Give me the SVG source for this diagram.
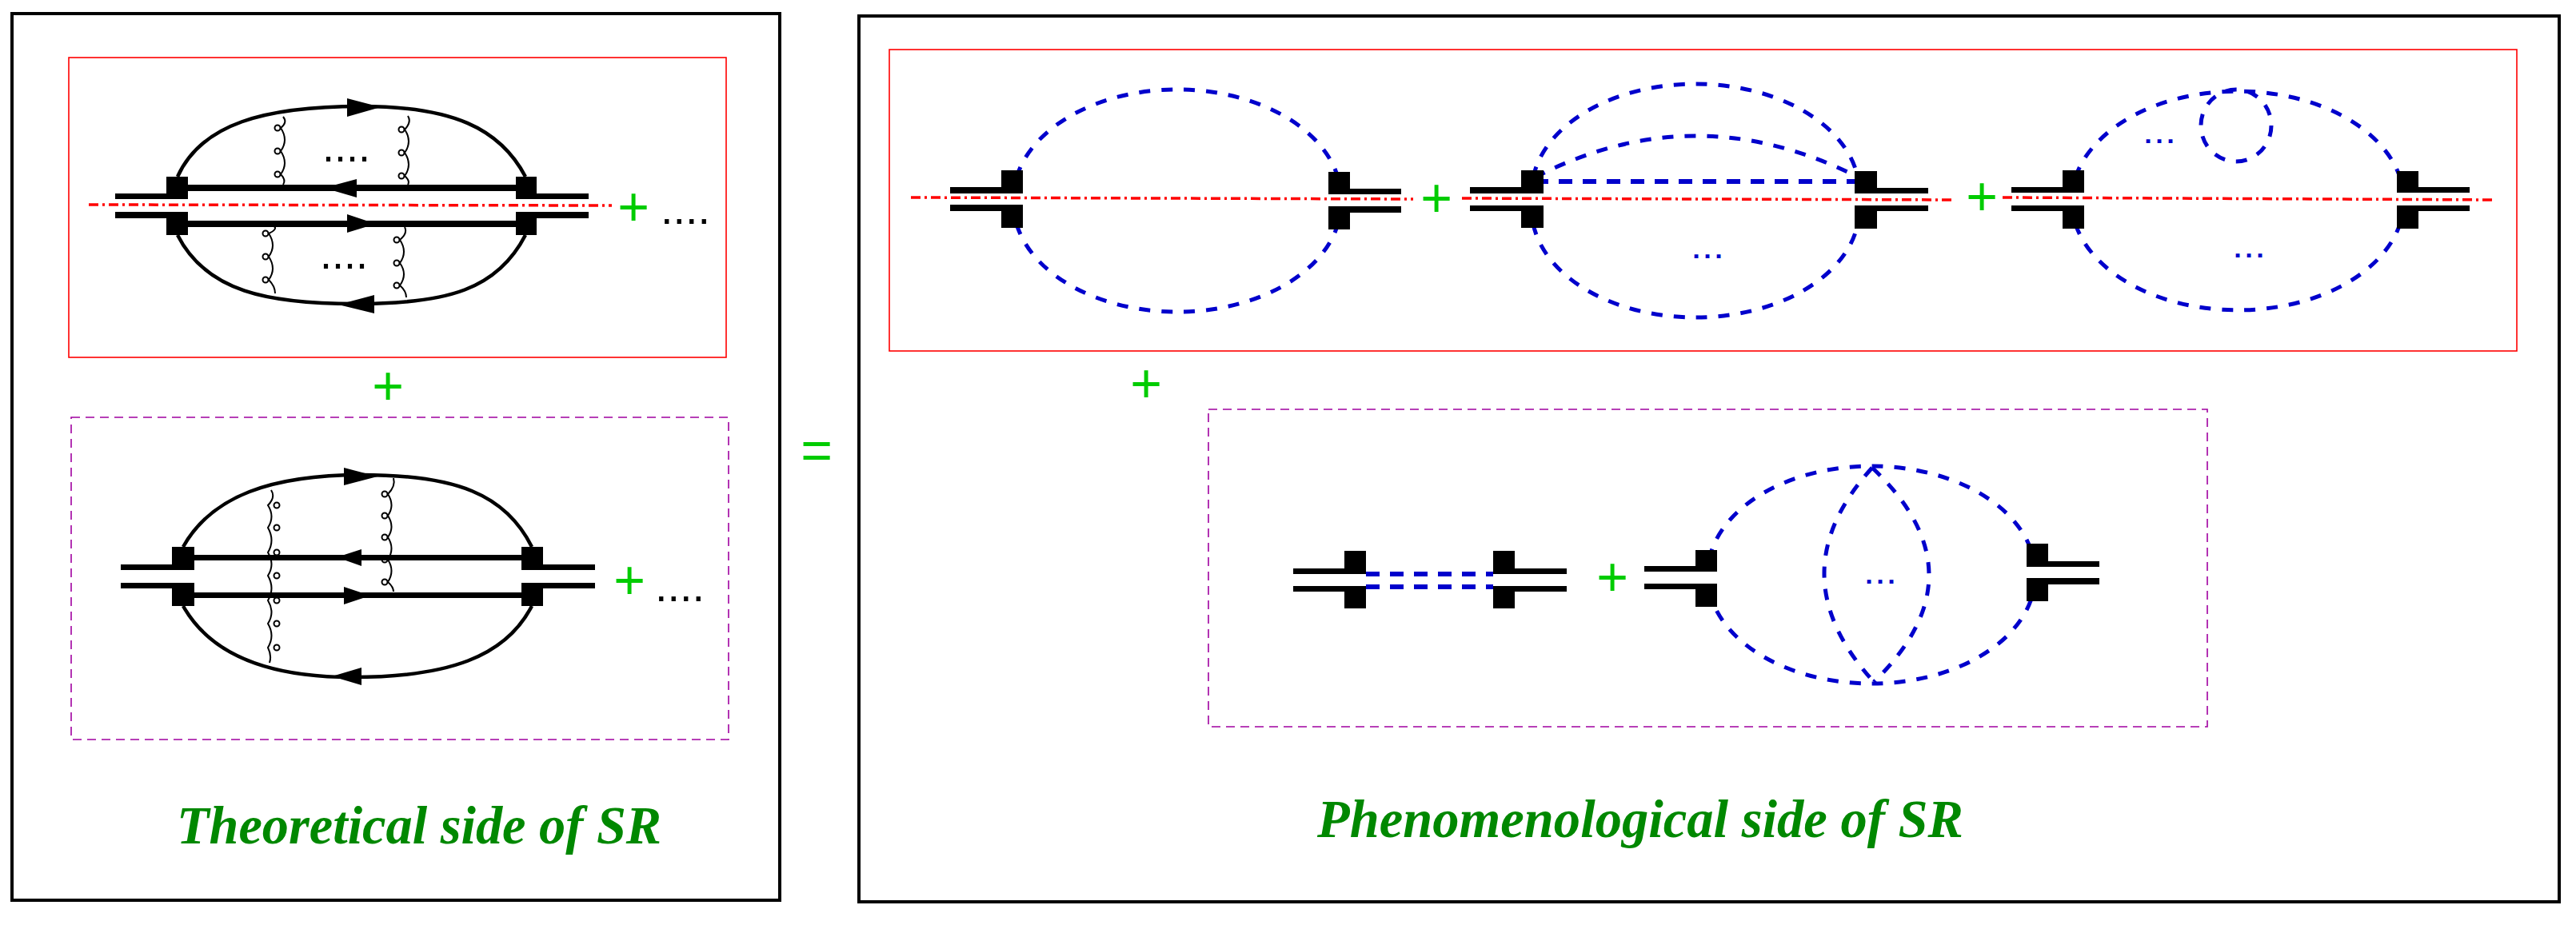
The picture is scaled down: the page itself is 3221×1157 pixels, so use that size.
<svg xmlns="http://www.w3.org/2000/svg" width="3221" height="1157" viewBox="0 0 3221 1157">
<style>
.frame{fill:none;stroke:#000;stroke-width:4}
.redbox{fill:none;stroke:#f00;stroke-width:1.6}
.purbox{fill:none;stroke:#a000a0;stroke-width:1.6;stroke-dasharray:11 7}
.cut{fill:none;stroke:#f00;stroke-width:3.5;stroke-dasharray:12 5 3 5}
.q{fill:none;stroke:#000;stroke-width:4.5}
.blk{fill:#000}
.glu{fill:none;stroke:#000;stroke-width:2}
.bl{fill:none;stroke:#0000cc;stroke-width:5;stroke-dasharray:14 14}
.bl2{fill:none;stroke:#0000cc;stroke-width:6;stroke-dasharray:17 13}
.plus{font-family:"Liberation Sans",Arial,sans-serif;font-size:68px;fill:#00cc00;text-anchor:middle}
.dots{font-family:"Liberation Sans",Arial,sans-serif;font-size:56px;fill:#000}
.bdots{font-family:"Liberation Sans",Arial,sans-serif;font-size:44px;fill:#0000cc}
.title{font-family:"Liberation Serif","Times New Roman",serif;font-weight:bold;font-style:italic;font-size:68px;fill:#008800}
</style>
<defs>
<g id="loop3"><circle cx="0" cy="0" r="3.5" class="glu"/></g>
</defs>

<rect class="frame" x="15" y="17" width="960" height="1109"/>
<rect class="frame" x="1074" y="20" width="2126" height="1108"/>
<rect class="redbox" x="86" y="72" width="822" height="375"/>
<rect class="purbox" x="89" y="522" width="822" height="403"/>
<rect class="redbox" x="1112" y="62" width="2035" height="377"/>
<rect class="purbox" x="1511" y="512" width="1249" height="397"/>

<g id="connectors">
<!-- left diagram 1 -->
<line class="cut" x1="111" y1="256" x2="765" y2="257"/>
<path class="q" d="M222,221 C252,155 330,133 452,133 C565,133 625,160 657,221"/>
<path class="q" d="M222,294 C258,365 335,380 445,380 C560,380 622,362 657,294"/>
<line x1="235" y1="235" x2="645" y2="235" stroke="#000" stroke-width="8"/>
<line x1="235" y1="280" x2="645" y2="280" stroke="#000" stroke-width="8"/>
<polygon class="blk" points="434,123 476,134 434,146"/>
<polygon class="blk" points="468,369 423,381 468,392"/>
<polygon class="blk" points="446,224 405,235 446,247"/>
<polygon class="blk" points="434,268 470,280 434,291"/>
<path class="glu" d="M354,146 Q360,153 351,160 Q361,175 351,189 Q361,204 351,218 Q358,225 354,231"/>
<path class="glu" d="M510,145 Q515,153 506,162 Q516,177 506,191 Q516,206 506,220 Q513,226 510,231"/>
<path class="glu" d="M343,283 Q347,287 336,292 Q346,307 336,321 Q346,336 336,350 Q344,358 344,367"/>
<path class="glu" d="M506,284 Q510,292 500,300 Q510,315 500,329 Q510,343 500,357 Q508,364 508,372"/>
<circle class="glu" cx="347" cy="160" r="3.5"/><circle class="glu" cx="347" cy="189" r="3.5"/><circle class="glu" cx="347" cy="218" r="3.5"/>
<circle class="glu" cx="502" cy="162" r="3.5"/><circle class="glu" cx="502" cy="191" r="3.5"/><circle class="glu" cx="502" cy="220" r="3.5"/>
<circle class="glu" cx="332" cy="292" r="3.5"/><circle class="glu" cx="332" cy="321" r="3.5"/><circle class="glu" cx="332" cy="350" r="3.5"/>
<circle class="glu" cx="496" cy="300" r="3.5"/><circle class="glu" cx="496" cy="329" r="3.5"/><circle class="glu" cx="496" cy="357" r="3.5"/>
<!-- left diagram 2 -->
<path class="q" d="M229,684 C265,620 340,594 452,594 C570,594 632,618 665,684"/>
<path class="q" d="M229,758 C265,822 340,847 440,847 C560,847 632,822 665,758"/>
<line x1="243" y1="697.5" x2="652" y2="697.5" stroke="#000" stroke-width="7"/>
<line x1="243" y1="744.5" x2="652" y2="744.5" stroke="#000" stroke-width="7"/>
<polygon class="blk" points="430,585 472,596 430,607"/>
<polygon class="blk" points="452,835 415,846 452,857"/>
<polygon class="blk" points="452,687 421,697 452,708"/>
<polygon class="blk" points="430,734 463,745 430,756"/>
<path class="glu" d="M339,613 Q345,622 335,632 Q344,646 335,660 Q344,676 335,691 Q344,706 335,720 Q344,736 335,751 Q344,766 335,780 Q344,795 335,810 Q340,820 337,829"/>
<circle class="glu" cx="346" cy="632" r="3.5"/><circle class="glu" cx="346" cy="660" r="3.5"/><circle class="glu" cx="346" cy="691" r="3.5"/><circle class="glu" cx="346" cy="720" r="3.5"/><circle class="glu" cx="346" cy="751" r="3.5"/><circle class="glu" cx="346" cy="780" r="3.5"/><circle class="glu" cx="346" cy="810" r="3.5"/>
<path class="glu" d="M492,598 Q495,608 485,618 Q494,632 485,645 Q494,659 485,672 Q494,686 485,700 Q494,714 485,728 Q492,734 492,740"/>
<circle class="glu" cx="481" cy="618" r="3.5"/><circle class="glu" cx="481" cy="645" r="3.5"/><circle class="glu" cx="481" cy="672" r="3.5"/><circle class="glu" cx="481" cy="700" r="3.5"/><circle class="glu" cx="481" cy="728" r="3.5"/>
<!-- right side cut lines -->
<line class="cut" x1="1139" y1="247" x2="1767" y2="249"/>
<line class="cut" x1="1828" y1="248" x2="2444" y2="250"/>
<line class="cut" x1="2504" y1="247" x2="3120" y2="250"/>
<!-- A -->
<path class="bl" d="M1271,222 A205,137 0 0 1 1673,222"/>
<path class="bl" d="M1271,280 A205,137 0 0 0 1673,280"/>
<!-- B -->
<path class="bl" d="M1917,222 A205,136 0 0 1 2323,222"/>
<path class="bl" d="M1917,280 A205,136 0 0 0 2323,280"/>
<path class="bl" d="M1919,222 Q2120,118 2324,222"/>
<line class="bl2" x1="1919" y1="227" x2="2324" y2="227"/>
<!-- C -->
<path class="bl" d="M2595,222 A208,138 0 0 1 3001,222"/>
<path class="bl" d="M2595,280 A208,138 0 0 0 3001,280"/>
<ellipse class="bl" cx="2796" cy="157" rx="44" ry="45"/>
<!-- D1 -->
<line class="bl2" x1="1708" y1="718" x2="1867" y2="718"/>
<line class="bl2" x1="1708" y1="734" x2="1867" y2="734"/>
<!-- D2 -->
<path class="bl" d="M2137,700 A205,136 0 0 1 2543,700"/>
<path class="bl" d="M2137,738 A205,136 0 0 0 2543,738"/>
<path class="bl" d="M2341,585 Q2220,718 2343,853"/>
<path class="bl" d="M2341,585 Q2482,718 2343,853"/>
</g>

<!-- vertices -->
<g id="v-l1-left"><rect class="blk" x="144" y="242" width="91" height="7"/><rect class="blk" x="208" y="221" width="27" height="28"/><rect class="blk" x="144" y="265" width="91" height="8"/><rect class="blk" x="208" y="265" width="27" height="29"/></g>
<g id="v-l1-right"><rect class="blk" x="645" y="242" width="91" height="7"/><rect class="blk" x="645" y="221" width="26" height="28"/><rect class="blk" x="645" y="265" width="91" height="8"/><rect class="blk" x="645" y="265" width="26" height="29"/></g>
<g id="v-l2-left"><rect class="blk" x="151" y="706" width="92" height="7"/><rect class="blk" x="215" y="684" width="28" height="29"/><rect class="blk" x="151" y="729" width="92" height="7"/><rect class="blk" x="215" y="729" width="28" height="29"/></g>
<g id="v-l2-right"><rect class="blk" x="652" y="706" width="92" height="7"/><rect class="blk" x="652" y="684" width="27" height="29"/><rect class="blk" x="652" y="729" width="92" height="7"/><rect class="blk" x="652" y="729" width="27" height="29"/></g>
<g id="v-a-left"><rect class="blk" x="1188" y="234" width="91" height="8"/><rect class="blk" x="1252" y="213" width="27" height="29"/><rect class="blk" x="1188" y="256" width="91" height="8"/><rect class="blk" x="1252" y="256" width="27" height="29"/></g>
<g id="v-a-right"><rect class="blk" x="1661" y="236" width="91" height="7"/><rect class="blk" x="1661" y="215" width="27" height="28"/><rect class="blk" x="1661" y="258" width="91" height="8"/><rect class="blk" x="1661" y="258" width="27" height="29"/></g>
<g id="v-b-left"><rect class="blk" x="1838" y="234" width="92" height="8"/><rect class="blk" x="1902" y="213" width="28" height="29"/><rect class="blk" x="1838" y="257" width="92" height="7"/><rect class="blk" x="1902" y="257" width="28" height="28"/></g>
<g id="v-b-right"><rect class="blk" x="2319" y="235" width="92" height="7"/><rect class="blk" x="2319" y="214" width="28" height="28"/><rect class="blk" x="2319" y="257" width="92" height="7"/><rect class="blk" x="2319" y="257" width="28" height="29"/></g>
<g id="v-c-left"><rect class="blk" x="2515" y="234" width="91" height="7"/><rect class="blk" x="2579" y="213" width="27" height="28"/><rect class="blk" x="2515" y="257" width="91" height="7"/><rect class="blk" x="2579" y="257" width="27" height="29"/></g>
<g id="v-c-right"><rect class="blk" x="2997" y="234" width="91" height="7"/><rect class="blk" x="2997" y="214" width="27" height="27"/><rect class="blk" x="2997" y="257" width="91" height="7"/><rect class="blk" x="2997" y="257" width="27" height="29"/></g>
<g id="v-d1-left"><rect class="blk" x="1617" y="711" width="91" height="7"/><rect class="blk" x="1681" y="689" width="27" height="29"/><rect class="blk" x="1617" y="733" width="91" height="7"/><rect class="blk" x="1681" y="733" width="27" height="28"/></g>
<g id="v-d1-right"><rect class="blk" x="1867" y="711" width="92" height="7"/><rect class="blk" x="1867" y="689" width="27" height="29"/><rect class="blk" x="1867" y="733" width="92" height="7"/><rect class="blk" x="1867" y="733" width="27" height="28"/></g>
<g id="v-d2-left"><rect class="blk" x="2056" y="708" width="91" height="7"/><rect class="blk" x="2120" y="688" width="27" height="27"/><rect class="blk" x="2056" y="730" width="91" height="7"/><rect class="blk" x="2120" y="730" width="27" height="29"/></g>
<g id="v-d2-right"><rect class="blk" x="2534" y="702" width="91" height="7"/><rect class="blk" x="2534" y="680" width="27" height="29"/><rect class="blk" x="2534" y="723" width="91" height="8"/><rect class="blk" x="2534" y="723" width="27" height="29"/></g>

<!-- texts -->
<g id="labels">
<text class="dots" x="403" y="202" textLength="60" lengthAdjust="spacingAndGlyphs">....</text>
<text class="dots" x="400" y="336" textLength="60" lengthAdjust="spacingAndGlyphs">....</text>
<text class="dots" x="826" y="280" textLength="62" lengthAdjust="spacingAndGlyphs">....</text>
<text class="dots" x="819" y="752" textLength="62" lengthAdjust="spacingAndGlyphs">....</text>
<text class="bdots" x="2114" y="323" textLength="42" lengthAdjust="spacingAndGlyphs">...</text>
<text class="bdots" x="2679" y="179" textLength="42" lengthAdjust="spacingAndGlyphs">...</text>
<text class="bdots" x="2791" y="322" textLength="42" lengthAdjust="spacingAndGlyphs">...</text>
<text class="bdots" x="2330" y="730" textLength="42" lengthAdjust="spacingAndGlyphs">...</text>
<text class="plus" x="792" y="282">+</text>
<text class="plus" x="485" y="506">+</text>
<text class="plus" x="787" y="749">+</text>
<text class="plus" x="1796" y="271">+</text>
<text class="plus" x="2478" y="269">+</text>
<text class="plus" x="1433" y="503">+</text>
<text class="plus" x="2016" y="745">+</text>
<text class="plus" x="1021" y="587">=</text>
<text class="title" x="221" y="1055" textLength="606" lengthAdjust="spacingAndGlyphs">Theoretical side of SR</text>
<text class="title" x="1647" y="1047" textLength="808" lengthAdjust="spacingAndGlyphs">Phenomenological side of SR</text>
</g>
</svg>
